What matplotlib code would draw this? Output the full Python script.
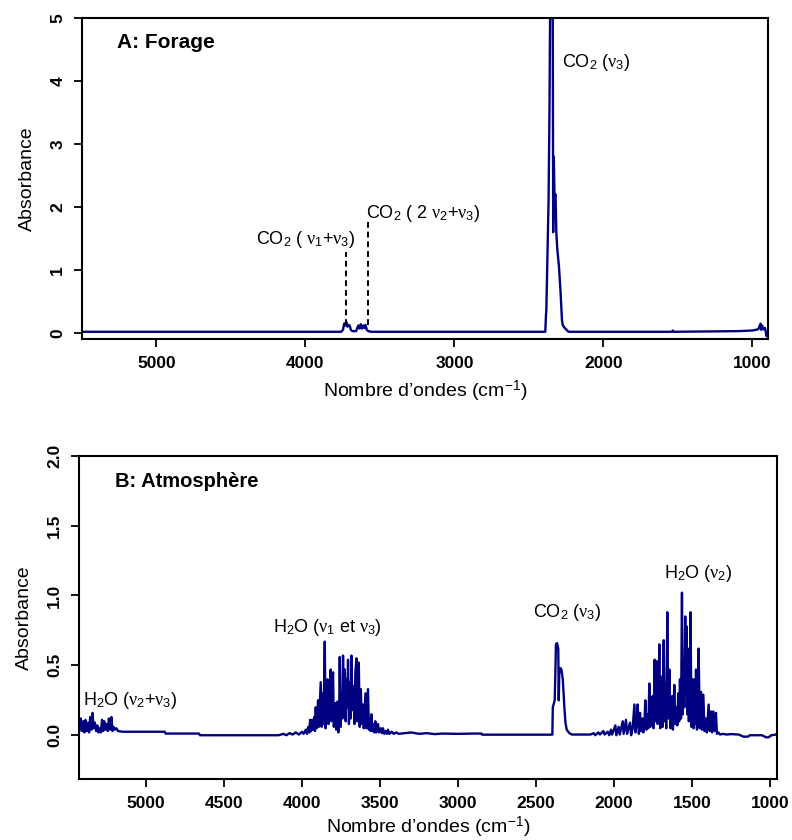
import numpy as np
import matplotlib
matplotlib.use('Agg')
import matplotlib.pyplot as plt

plt.rcParams['font.family'] = ['Liberation Sans', 'DejaVu Sans']
plt.rcParams['mathtext.fontset'] = 'custom'
plt.rcParams['mathtext.rm'] = 'Liberation Sans'
plt.rcParams['mathtext.it'] = 'Liberation Serif'

# --- A: Forage (wavenumber cm-1, absorbance) ---
forage_wn = [5500, 3760, 3748, 3740, 3735, 3726, 3718, 3712, 3703, 3695, 3685,
             3660, 3645, 3636, 3629, 3620, 3612, 3603, 3597, 3588, 3578, 3557,
             2390, 2385, 2383, 2368, 2362, 2357, 2340, 2337, 2333, 2328, 2321,
             2316, 2310, 2298, 2287, 2278, 2272, 2260, 2250, 2240, 2231,
             1540, 1534, 1528, 1100, 1000, 960, 945, 940, 935, 925, 915, 905, 895]
forage_abs = [0.02, 0.02, 0.05, 0.15, 0.12, 0.18, 0.10, 0.13, 0.12, 0.05, 0.03,
              0.03, 0.12, 0.07, 0.14, 0.07, 0.12, 0.08, 0.13, 0.05, 0.03, 0.02,
              0.02, 0.30, 0.35, 2.1, 3.5, 5.3, 5.3, 1.6, 2.8, 2.15, 2.2,
              1.6, 1.35, 1.05, 0.63, 0.20, 0.12, 0.08, 0.06, 0.03, 0.02,
              0.02, 0.04, 0.02, 0.03, 0.04, 0.06, 0.15, 0.05, 0.12, 0.06, 0.08, -0.05, 0.0]

# --- B: Atmosphere ---
h2o_comb_wn = [5428, 5425, 5418, 5410, 5402, 5395, 5388, 5380, 5372, 5365, 5358,
               5350, 5343, 5336, 5328, 5320, 5312, 5305, 5298, 5290, 5282, 5275,
               5268, 5260, 5252, 5245, 5238, 5230, 5222, 5215, 5208, 5200, 5190,
               5180, 5150, 4880, 4875, 4660, 4655]
h2o_comb_abs = [0.03, 0.05, 0.12, 0.03, 0.10, 0.02, 0.11, 0.03, 0.09, 0.02, 0.13,
                0.04, 0.16, 0.05, 0.09, 0.03, 0.07, 0.02, 0.05, 0.02, 0.11, 0.03,
                0.10, 0.04, 0.08, 0.03, 0.12, 0.04, 0.13, 0.03, 0.06, 0.04, 0.05,
                0.03, 0.025, 0.025, 0.012, 0.012, 0.0]

h2o_str_wn = [4150, 4120, 4100, 4080, 4060, 4040, 4020, 4000, 3990, 3975, 3968,
              3960, 3953, 3948, 3942, 3937, 3931, 3922, 3917, 3912, 3906, 3897,
              3892, 3886, 3880, 3874, 3868, 3862, 3854, 3849, 3843, 3837, 3831,
              3825, 3816, 3811, 3806, 3801, 3796, 3791, 3786, 3781, 3773, 3767,
              3762, 3758, 3752, 3746, 3741, 3737, 3731, 3726, 3720, 3715, 3710,
              3705, 3699, 3693, 3688, 3683, 3677, 3670, 3664, 3658, 3651, 3646,
              3641, 3636, 3630, 3623, 3617, 3610, 3604, 3598, 3593, 3587, 3582,
              3577, 3571, 3565, 3560, 3555, 3549, 3542, 3536, 3530, 3524, 3518,
              3513, 3506, 3495, 3488, 3481, 3472, 3462, 3455, 3449, 3440, 3425,
              3412, 3395, 3380]
h2o_str_abs = [0.0, 0.01, 0.0, 0.015, 0.005, 0.02, 0.005, 0.025, 0.01, 0.04, 0.01,
               0.06, 0.02, 0.11, 0.03, 0.11, 0.04, 0.13, 0.03, 0.20, 0.05, 0.25,
               0.06, 0.22, 0.38, 0.06, 0.30, 0.08, 0.67, 0.05, 0.28, 0.40, 0.08,
               0.30, 0.47, 0.10, 0.35, 0.45, 0.06, 0.15, 0.23, 0.04, 0.24, 0.02,
               0.15, 0.56, 0.06, 0.30, 0.12, 0.57, 0.15, 0.47, 0.10, 0.40, 0.20,
               0.54, 0.08, 0.38, 0.12, 0.57, 0.18, 0.35, 0.08, 0.45, 0.55, 0.10,
               0.30, 0.52, 0.06, 0.33, 0.08, 0.22, 0.05, 0.18, 0.30, 0.05, 0.20,
               0.33, 0.04, 0.12, 0.03, 0.15, 0.03, 0.08, 0.02, 0.10, 0.02, 0.06,
               0.08, 0.02, 0.05, 0.015, 0.05, 0.01, 0.03, 0.01, 0.04, 0.01, 0.025,
               0.01, 0.02, 0.01]

flat_wn = [3300, 3250, 3200, 3150, 3100, 3000, 2900, 2850, 2845, 2400]
flat_abs = [0.02, 0.01, 0.015, 0.008, 0.012, 0.01, 0.012, 0.012, 0.004, 0.004]

co2_wn = [2395, 2392, 2385, 2380, 2377, 2372, 2365, 2357, 2354, 2350, 2343, 2337,
          2328, 2318, 2311, 2303, 2286, 2270]
co2_abs = [0.005, 0.20, 0.23, 0.25, 0.38, 0.65, 0.66, 0.62, 0.25, 0.47, 0.48, 0.47,
           0.40, 0.20, 0.09, 0.04, 0.015, 0.005]

h2o_bend_wn = [2150, 2130, 2120, 2100, 2090, 2068, 2060, 2040, 2030, 2019, 2012,
               1991, 1985, 1970, 1963, 1944, 1938, 1923, 1916, 1905, 1897, 1890,
               1880, 1869, 1862, 1855, 1848, 1840, 1833, 1826, 1818, 1812, 1805,
               1799, 1792, 1786, 1780, 1773, 1767, 1760, 1752, 1746, 1739, 1733,
               1726, 1720, 1715, 1709, 1703, 1698, 1694, 1688, 1681, 1676, 1671,
               1665, 1658, 1652, 1645, 1638, 1632, 1628, 1622, 1613, 1607, 1600,
               1594, 1588, 1582, 1577, 1570, 1564, 1559, 1554, 1549, 1543, 1538,
               1535, 1530, 1526, 1520, 1515, 1509, 1503, 1496, 1490, 1483, 1478,
               1474, 1468, 1462, 1457, 1450, 1442, 1436, 1427, 1420, 1412, 1405,
               1400, 1393, 1386, 1378, 1371, 1363, 1355, 1346, 1340, 1330, 1320,
               1300, 1280, 1250, 1200, 1170, 1140, 1130, 1100, 1050, 1025, 1010,
               990, 960, 950]
h2o_bend_abs = [0.005, 0.015, 0.0, 0.02, 0.005, 0.03, 0.005, 0.025, 0.0, 0.04, 0.005,
                0.07, 0.0, 0.06, 0.005, 0.10, 0.01, 0.11, 0.01, 0.06, 0.09, 0.0,
                0.05, 0.22, 0.02, 0.08, 0.22, 0.01, 0.16, 0.03, 0.12, 0.02, 0.08,
                0.25, 0.04, 0.15, 0.05, 0.37, 0.06, 0.18, 0.28, 0.05, 0.54, 0.10,
                0.53, 0.08, 0.30, 0.65, 0.05, 0.25, 0.42, 0.06, 0.68, 0.10, 0.37,
                0.05, 0.88, 0.12, 0.47, 0.05, 0.15, 0.28, 0.04, 0.36, 0.08, 0.20,
                0.07, 0.30, 0.10, 0.40, 0.12, 1.02, 0.15, 0.43, 0.20, 0.85, 0.30,
                0.78, 0.15, 0.62, 0.10, 0.25, 0.88, 0.06, 0.40, 0.05, 0.40, 0.08,
                0.47, 0.04, 0.20, 0.62, 0.05, 0.31, 0.04, 0.29, 0.03, 0.12, 0.02,
                0.10, 0.22, 0.03, 0.17, 0.02, 0.17, 0.03, 0.16, 0.01, 0.02, 0.005,
                0.01, 0.005, 0.008, 0.005, -0.01, -0.01, 0.0, 0.0, 0.0, -0.015, -0.015,
                0.0, 0.005, 0.02]

atm_wn = h2o_comb_wn + h2o_str_wn + flat_wn + co2_wn + h2o_bend_wn
atm_abs = h2o_comb_abs + h2o_str_abs + flat_abs + co2_abs + h2o_bend_abs

line_col = '#000080'

fig = plt.figure(figsize=(7.92, 8.4), dpi=100)
ax1 = fig.add_axes([0.1035, 0.5964, 0.8662, 0.3822])
ax2 = fig.add_axes([0.0997, 0.0723, 0.8817, 0.3852])

ax1.plot(forage_wn, forage_abs, color=line_col, lw=1.7)
ax1.set_xlim(5500, 895)
ax1.set_ylim(-0.095, 5.0)
ax1.set_xticks([5000, 4000, 3000, 2000, 1000])
ax1.set_yticks([0, 1, 2, 3, 4, 5])

ax2.plot(atm_wn, atm_abs, color=line_col, lw=1.7)
ax2.set_xlim(5430, 953)
ax2.set_ylim(-0.315, 2.0)
ax2.set_xticks([5000, 4500, 4000, 3500, 3000, 2500, 2000, 1500, 1000])
ax2.set_yticks([0.0, 0.5, 1.0, 1.5, 2.0])
ax2.set_yticklabels(['0.0', '0.5', '1.0', '1.5', '2.0'])

for ax in (ax1, ax2):
    for sp in ax.spines.values():
        sp.set_linewidth(1.5)
    ax.tick_params(direction='out', length=6, width=1.3, labelsize=12.5, pad=6)
    ax.tick_params(axis='y', labelrotation=90)
    for lab in ax.get_xticklabels() + ax.get_yticklabels():
        lab.set_fontweight('bold')
    for lab in ax.get_yticklabels():
        lab.set_va('center')
    ax.set_ylabel('Absorbance', fontsize=14, labelpad=10)

ax1.set_xlabel('Nombre d\u2019ondes (cm$^{-1}$)', fontsize=14, labelpad=6)
ax2.set_xlabel('Nombre d\u2019ondes (cm$^{-1}$)', fontsize=14, labelpad=3)

# annotations, panel A
ax1.text(0.051, 0.925, 'A: Forage', transform=ax1.transAxes, fontsize=15,
         fontweight='bold', ha='left', va='center')
ax1.text(2276, 4.30, 'CO$_2$ ($\\nu_3$)', fontsize=13, ha='left', va='center')
ax1.text(4332, 1.48, 'CO$_2$ ( $\\nu_1$+$\\nu_3$)', fontsize=13, ha='left', va='center')
ax1.text(3591, 1.90, 'CO$_2$ ( 2 $\\nu_2$+$\\nu_3$)', fontsize=13, ha='left', va='center')
ax1.plot([3726, 3726], [0.13, 1.29], color='black', lw=1.4, ls=(0, (3, 2)))
ax1.plot([3577, 3577], [0.13, 1.83], color='black', lw=1.4, ls=(0, (3, 2)))

# annotations, panel B
ax2.text(0.0516, 0.919, 'B: Atmosph\u00e8re', transform=ax2.transAxes, fontsize=14.5,
         fontweight='bold', ha='left', va='center')
ax2.text(5403, 0.25, 'H$_2$O ($\\nu_2$+$\\nu_3$)', fontsize=13, ha='left', va='center')
ax2.text(4187, 0.77, 'H$_2$O ($\\nu_1$ et $\\nu_3$)', fontsize=13, ha='left', va='center')
ax2.text(2516, 0.875, 'CO$_2$ ($\\nu_3$)', fontsize=13, ha='left', va='center')
ax2.text(1677, 1.16, 'H$_2$O ($\\nu_2$)', fontsize=13, ha='left', va='center')

fig.savefig('out.png', dpi=100)
